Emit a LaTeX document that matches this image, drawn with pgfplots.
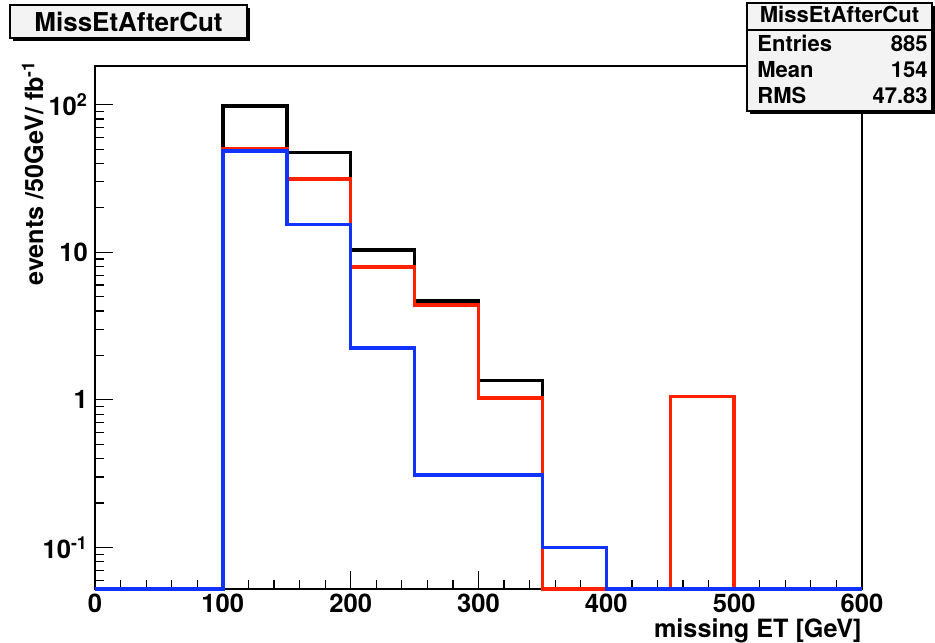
\documentclass[border=0pt]{standalone}
\usepackage{pgfplots}
\pgfplotsset{compat=1.18}
\usepackage{fontspec}
\setmainfont{TeX Gyre Heros}
\definecolor{rootred}{RGB}{255,34,0}
\definecolor{rootblue}{RGB}{17,51,255}
\definecolor{boxfill}{RGB}{243,243,243}
\begin{document}
\begin{tikzpicture}
\useasboundingbox (-47.5pt,-26.5pt) rectangle (420pt,294.5pt);
\begin{axis}[at={(0,0)}, anchor=south west, scale only axis,
  width=383.5pt, height=261.5pt,
  xmin=0, xmax=600, ymode=log, ymin=0.0523, ymax=183,
  xtick={0,100,200,300,400,500,600},
  xticklabels={0,100,200,300,400,500,600},
  minor x tick num=4,
  ytick={0.1,1,10,100},
  yticklabels={10\textsuperscript{-1},1,10,10\textsuperscript{2}},
  minor ytick={0.06,0.07,0.08,0.09,0.2,0.3,0.4,0.5,0.6,0.7,0.8,0.9,2,3,4,5,6,7,8,9,20,30,40,50,60,70,80,90},
  tick pos=left, tick align=inside,
  major tick length=9pt, minor tick length=4.5pt,
  tick label style={font=\fontsize{12.8}{14}\selectfont\bfseries},
  xticklabel style={yshift=1pt},
  axis line style={line width=0.75pt},
  every tick/.style={black, line width=0.6pt},
  clip=false, no markers]
\addplot[const plot mark left, black, line width=1.75pt, line join=miter] coordinates {
  (0,0.0523) (100,98) (150,47.3) (200,10.4) (250,4.69) (300,1.35) (350,0.0523) (600,0.0523)};
\addplot[const plot mark left, rootred, line width=1.75pt, line join=miter] coordinates {
  (0,0.0523) (100,50.1) (150,31.5) (200,7.97) (250,4.41) (300,1.03) (350,0.0523) (450,1.05) (500,0.0523) (600,0.0523)};
\addplot[const plot mark left, rootblue, line width=1.75pt, line join=miter] coordinates {
  (0,0.0523) (100,48.5) (150,15.4) (200,2.25) (250,0.31) (350,0.1) (400,0.0523) (600,0.0523)};
\end{axis}
% axis labels
\node[rotate=90, anchor=base east, inner sep=0pt, font=\fontsize{12.6}{14}\selectfont\bfseries]
  at (-26pt,264.5pt) {events /50GeV/ fb\textsuperscript{-1}};
\node[anchor=base east, inner sep=0pt, font=\fontsize{12.6}{14}\selectfont\bfseries]
  at (383.5pt,-24.3pt) {missing ET [GeV]};
% title box
\fill[black] (-41pt,274pt) rectangle (77.5pt,290.5pt);
\filldraw[fill=boxfill, draw=black, line width=0.6pt] (-42.5pt,275.5pt) rectangle (76pt,292pt);
\node[anchor=base, inner sep=0pt, font=\fontsize{13}{15}\selectfont\bfseries]
  at (16.75pt,278.5pt) {MissEtAfterCut};
% stats box
\fill[black] (327.5pt,237.5pt) rectangle (420pt,291.5pt);
\filldraw[fill=boxfill, draw=black, line width=0.6pt] (326pt,239pt) rectangle (418.5pt,293pt);
\draw[black, line width=0.6pt] (326pt,279.5pt) -- (418.5pt,279.5pt);
\begin{scope}[every node/.style={inner sep=0pt, font=\fontsize{11}{13}\selectfont\bfseries}]
\node[anchor=base] at (372.25pt,283pt) {MissEtAfterCut};
\node[anchor=base west] at (331pt,268.5pt) {Entries};
\node[anchor=base east] at (416.5pt,268.5pt) {885};
\node[anchor=base west] at (331pt,255.5pt) {Mean};
\node[anchor=base east] at (416.5pt,255.5pt) {154};
\node[anchor=base west] at (331pt,242.5pt) {RMS};
\node[anchor=base east] at (416.5pt,242.5pt) {47.83};
\end{scope}
\end{tikzpicture}
\end{document}
